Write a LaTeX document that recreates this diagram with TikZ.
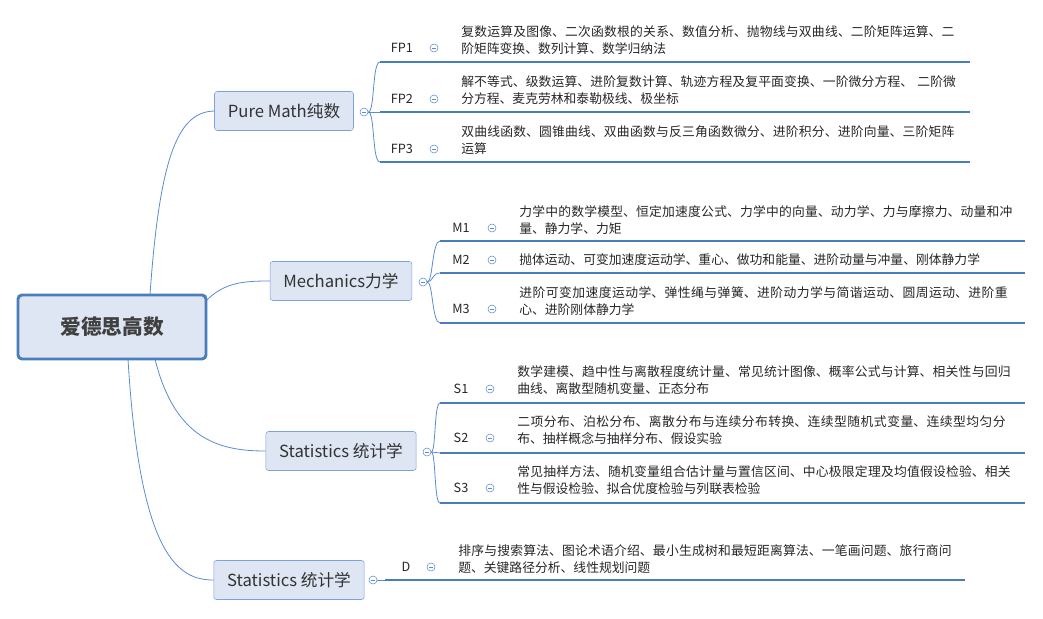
\documentclass[tikz,border=0pt]{standalone}
\usepackage{fontspec}
\setmainfont{Noto Sans CJK SC}
\XeTeXlinebreaklocale "zh"
\XeTeXlinebreakskip=0pt plus 1pt
\definecolor{lnblue}{HTML}{5B8BD0}
\definecolor{ulblue}{HTML}{4A7EBB}
\definecolor{bxfill}{HTML}{DDE6F2}
\begin{document}
\begin{tikzpicture}[x=0.75pt,y=-0.75pt,
        root/.style={draw=ulblue,line width=2.2pt,fill=bxfill,rounded corners=3pt,minimum width=188*0.75pt,minimum height=64*0.75pt,font=\fontsize{15.5}{18}\selectfont\bfseries,text=black!75},
        branch/.style={draw=lnblue!80,fill=bxfill,rounded corners=2pt,minimum height=39*0.75pt,inner xsep=10pt,font=\fontsize{12.5}{14}\selectfont,text=black!80},
        knob/.style={circle,draw=lnblue,fill=white,inner sep=0pt,minimum size=6pt,path picture={\draw[lnblue,line width=0.4pt] ([xshift=-1.6pt]path picture bounding box.center) -- ([xshift=1.6pt]path picture bounding box.center);}},
        tag/.style={font=\fontsize{9.5}{11}\selectfont,text=black!85},
        body/.style={anchor=west,text width=373pt,align=left,font=\fontsize{9.6}{12.8}\selectfont,text=black!85,inner sep=0pt},
        link/.style={lnblue,line width=0.6pt},
        under/.style={ulblue,line width=1.5pt}
    ]
        \useasboundingbox (0,0) rectangle (1043,618);
        % root and branches
        \node[root] (root) at (112,327) {爱德思高数};
        \node[branch] (pure) at (284,111) {Pure Math纯数};
        \node[branch] (mech) at (341,281) {Mechanics力学};
        \node[branch] (stat) at (341,451) {Statistics 统计学};
        \node[branch] (dec) at (289,580) {Statistics 统计学};
        \node[knob] (kpure) at (364,112) {};
        \node[knob] (kmech) at (423,282) {};
        \node[knob] (kstat) at (427,452) {};
        \node[knob] (kdec) at (373,580) {};

        % links from the root
        \draw[link] (150,295) .. controls (160,150) and (180,112) .. (pure.west);
        \draw[link] (207,300) .. controls (225,282) and (245,281) .. (mech.west);
        \draw[link] (155,359) .. controls (175,440) and (220,451) .. (stat.west);
        \draw[link] (128,359) .. controls (140,560) and (180,580) .. (dec.west);

        % Pure Math
        \coordinate (fp1) at (380,62);
        \coordinate (fp2) at (380,112);
        \coordinate (fp3) at (380,162);
        \draw[link] (kpure.east) .. controls (375,112) and (372,62) .. (fp1);
        \draw[link] (kpure.east) -- (fp2);
        \draw[link] (kpure.east) .. controls (375,112) and (372,162) .. (fp3);
        \draw[under] (fp1) -- (970,62);
        \draw[under] (fp2) -- (970,112);
        \draw[under] (fp3) -- (970,162);
        \node[tag] (tfp1) at (402,48) {FP1};
        \node[tag] (tfp2) at (402,99) {FP2};
        \node[tag] (tfp3) at (402,149) {FP3};
        \node[knob] at (434,48) {};
        \node[knob] at (434,99) {};
        \node[knob] at (434,149) {};
        \node[body] (bfp1) at (461,40) {复数运算及图像、二次函数根的关系、数值分析、抛物线与双曲线、二阶矩阵运算、二阶矩阵变换、数列计算、数学归纳法};
        \node[body] (bfp2) at (461,90) {解不等式、级数运算、进阶复数计算、轨迹方程及复平面变换、一阶微分方程、 二阶微分方程、麦克劳林和泰勒极线、极坐标};
        \node[body] (bfp3) at (461,140) {双曲线函数、圆锥曲线、双曲函数与反三角函数微分、进阶积分、进阶向量、三阶矩阵运算};

        % Mechanics
        \coordinate (m1) at (440,241);
        \coordinate (m2) at (440,273);
        \coordinate (m3) at (440,323);
        \draw[link] (kmech.east) .. controls (433,282) and (432,241) .. (m1);
        \draw[link] (kmech.east) .. controls (433,282) and (432,273) .. (m2);
        \draw[link] (kmech.east) .. controls (433,282) and (432,323) .. (m3);
        \draw[under] (m1) -- (1025,241);
        \draw[under] (m2) -- (1025,273);
        \draw[under] (m3) -- (1025,323);
        \node[tag] at (461,228) {M1};
        \node[tag] at (461,260) {M2};
        \node[tag] at (461,309) {M3};
        \node[knob] at (492,228) {};
        \node[knob] at (492,260) {};
        \node[knob] at (492,309) {};
        \node[body] (bm1) at (519,220) {力学中的数学模型、恒定加速度公式、力学中的向量、动力学、力与摩擦力、动量和冲量、静力学、力矩};
        \node[body] (bm2) at (519,260) {抛体运动、可变加速度运动学、重心、做功和能量、进阶动量与冲量、刚体静力学};
        \node[body] (bm3) at (519,301) {进阶可变加速度运动学、弹性绳与弹簧、进阶动力学与简谐运动、圆周运动、进阶重心、进阶刚体静力学};

        % Statistics
        \coordinate (s1) at (440,403);
        \coordinate (s2) at (440,453);
        \coordinate (s3) at (440,503);
        \draw[link] (kstat.east) .. controls (436,452) and (434,403) .. (s1);
        \draw[link] (kstat.east) -- (s2);
        \draw[link] (kstat.east) .. controls (436,452) and (434,503) .. (s3);
        \draw[under] (s1) -- (1025,403);
        \draw[under] (s2) -- (1025,453);
        \draw[under] (s3) -- (1025,503);
        \node[tag] at (461,389) {S1};
        \node[tag] at (461,438) {S2};
        \node[tag] at (461,488) {S3};
        \node[knob] at (490,389) {};
        \node[knob] at (490,438) {};
        \node[knob] at (490,488) {};
        \node[body] (bs1) at (517,380) {数学建模、趋中性与离散程度统计量、常见统计图像、概率公式与计算、相关性与回归曲线、离散型随机变量、正态分布};
        \node[body] (bs2) at (517,430) {二项分布、泊松分布、离散分布与连续分布转换、连续型随机式变量、连续型均匀分布、抽样概念与抽样分布、假设实验};
        \node[body] (bs3) at (517,480) {常见抽样方法、随机变量组合估计量与置信区间、中心极限定理及均值假设检验、相关性与假设检验、拟合优度检验与列联表检验};

        % Decision
        \coordinate (d) at (385,580);
        \draw[link] (kdec.east) -- (d);
        \draw[under] (d) -- (965,580);
        \node[tag] at (406,567) {D};
        \node[knob] at (431,567) {};
        \node[body] (bd) at (458,559) {排序与搜索算法、图论术语介绍、最小生成树和最短距离算法、一笔画问题、旅行商问题、关键路径分析、线性规划问题};
    \end{tikzpicture}
\end{document}
